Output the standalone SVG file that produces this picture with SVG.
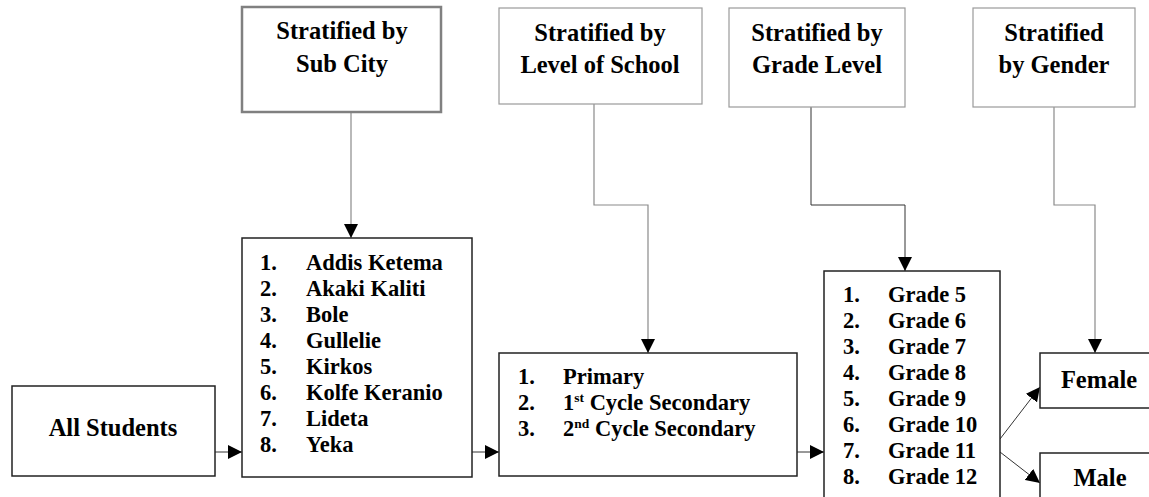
<svg xmlns="http://www.w3.org/2000/svg" width="1149" height="497" viewBox="0 0 1149 497">
<defs>
<marker id="ah" viewBox="0 0 14 14" refX="14" refY="7" markerWidth="14" markerHeight="14" markerUnits="userSpaceOnUse" orient="auto">
<path d="M0,0 L14,7 L0,14 Z" fill="#000"/>
</marker>
</defs>
<style>
.hd{fill:#fff;stroke:#9a9a9a;stroke-width:1.2}
.hd2{fill:#fff;stroke:#808080;stroke-width:2.5}
.bx{fill:#fff;stroke:#222;stroke-width:1.5}
.t{font-family:"Liberation Serif","Times New Roman",serif;font-weight:bold;font-size:22.5px;fill:#000}
.th{font-family:"Liberation Serif","Times New Roman",serif;font-weight:bold;font-size:24.5px;fill:#000;text-anchor:middle}
.c{fill:none;stroke:#8a8a8a;stroke-width:1.2}
.k{fill:none;stroke:#333;stroke-width:1}
.sup{font-size:13.5px}
</style>
<rect width="1149" height="497" fill="#fff"/>
<g id="connectors">
<path class="c" d="M351,112 V238" marker-end="url(#ah)"/>
<path class="c" d="M594,104 V205 H648 V353" marker-end="url(#ah)"/>
<path class="k" d="M811,107 V205 H905 V271" marker-end="url(#ah)"/>
<path class="c" d="M1054,107 V205 H1095 V353" marker-end="url(#ah)"/>
<path class="k" d="M215,452 H242" marker-end="url(#ah)"/>
<path class="k" d="M472,452 H499" marker-end="url(#ah)"/>
<path class="k" d="M797,452 H824" marker-end="url(#ah)"/>
<path class="k" d="M1000,439 L1040,387" marker-end="url(#ah)"/>
<path class="k" d="M1000,452 L1040,483" marker-end="url(#ah)"/>
</g>
<g id="h-subcity">
<rect class="hd2" x="242" y="7" width="199" height="105"/>
<text class="th" x="342" y="39">Stratified by</text>
<text class="th" x="342" y="72">Sub City</text>
</g>
<g id="h-level">
<rect class="hd" x="499" y="8" width="203" height="96"/>
<text class="th" x="600" y="41">Stratified by</text>
<text class="th" x="600" y="73">Level of School</text>
</g>
<g id="h-grade">
<rect class="hd" x="729" y="8" width="176" height="99"/>
<text class="th" x="817" y="41">Stratified by</text>
<text class="th" x="817" y="73">Grade Level</text>
</g>
<g id="h-gender">
<rect class="hd" x="973" y="8" width="162" height="99"/>
<text class="th" x="1054" y="41">Stratified</text>
<text class="th" x="1054" y="73">by Gender</text>
</g>
<g id="all-students">
<rect class="bx" x="12" y="386" width="203" height="90"/>
<text class="th" x="113" y="436">All Students</text>
</g>
<g id="subcity-list">
<rect class="bx" x="242" y="238" width="230" height="239"/>
<text class="t" x="260" y="270">1.</text><text class="t" x="306" y="270">Addis Ketema</text>
<text class="t" x="260" y="296">2.</text><text class="t" x="306" y="296">Akaki Kaliti</text>
<text class="t" x="260" y="322">3.</text><text class="t" x="306" y="322">Bole</text>
<text class="t" x="260" y="348">4.</text><text class="t" x="306" y="348">Gullelie</text>
<text class="t" x="260" y="374">5.</text><text class="t" x="306" y="374">Kirkos</text>
<text class="t" x="260" y="400">6.</text><text class="t" x="306" y="400">Kolfe Keranio</text>
<text class="t" x="260" y="426">7.</text><text class="t" x="306" y="426">Lideta</text>
<text class="t" x="260" y="452">8.</text><text class="t" x="306" y="452">Yeka</text>
</g>
<g id="level-list">
<rect class="bx" x="499" y="353" width="298" height="123"/>
<text class="t" x="518" y="384">1.</text><text class="t" x="563" y="384">Primary</text>
<text class="t" x="518" y="410">2.</text><text class="t" x="563" y="410">1<tspan class="sup" dy="-8">st</tspan><tspan dy="8"> Cycle Secondary</tspan></text>
<text class="t" x="518" y="436">3.</text><text class="t" x="563" y="436">2<tspan class="sup" dy="-8">nd</tspan><tspan dy="8"> Cycle Secondary</tspan></text>
</g>
<g id="grade-list">
<rect class="bx" x="824" y="271" width="176" height="240"/>
<text class="t" x="843" y="302">1.</text><text class="t" x="888" y="302">Grade 5</text>
<text class="t" x="843" y="328">2.</text><text class="t" x="888" y="328">Grade 6</text>
<text class="t" x="843" y="354">3.</text><text class="t" x="888" y="354">Grade 7</text>
<text class="t" x="843" y="380">4.</text><text class="t" x="888" y="380">Grade 8</text>
<text class="t" x="843" y="406">5.</text><text class="t" x="888" y="406">Grade 9</text>
<text class="t" x="843" y="432">6.</text><text class="t" x="888" y="432">Grade 10</text>
<text class="t" x="843" y="458">7.</text><text class="t" x="888" y="458">Grade 11</text>
<text class="t" x="843" y="484">8.</text><text class="t" x="888" y="484">Grade 12</text>
</g>
<g id="female">
<rect class="bx" x="1040" y="353" width="120" height="55"/>
<text class="th" x="1099" y="388">Female</text>
</g>
<g id="male">
<rect class="bx" x="1040" y="453" width="120" height="60"/>
<text class="th" x="1100" y="486">Male</text>
</g>
</svg>
